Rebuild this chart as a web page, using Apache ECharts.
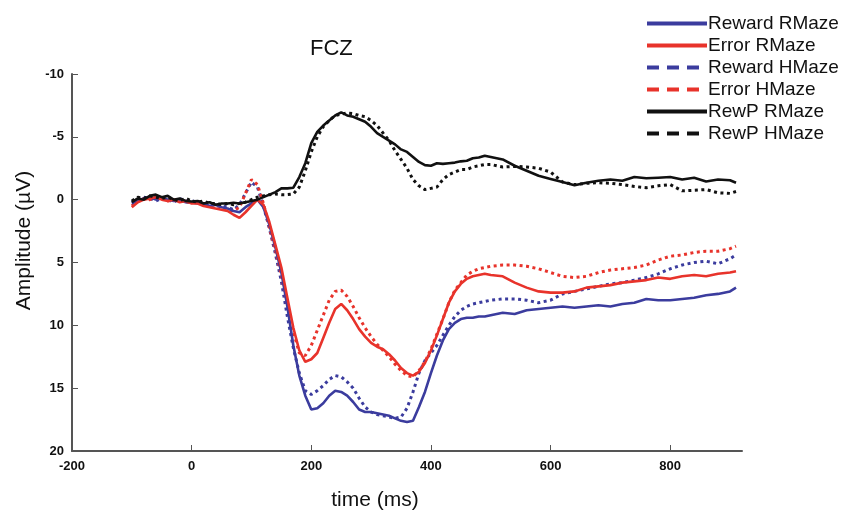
<!DOCTYPE html>
<html>
<head>
<meta charset="utf-8">
<script src="https://cdn.jsdelivr.net/npm/echarts@6/dist/echarts.min.js"></script>
<style>html,body{margin:0;padding:0;background:#fff;}#c{width:859px;height:516px;}</style>
</head>
<body>
<div id="c"></div>
<script>
const times = [-100,-90,-80,-70,-60,-50,-40,-30,-20,-10,0,10,20,30,40,50,60,70,80,90,100,110,120,130,140,150,160,170,180,190,200,210,220,230,240,250,260,270,280,290,300,310,320,330,340,350,360,370,380,390,400,410,420,430,440,450,460,470,480,490,500,520,540,560,580,600,620,640,660,680,700,720,740,760,780,800,820,840,860,880,900,910];

const rewardR = [0.3,0.1,-0.1,-0.2,0.0,-0.2,0.0,0.1,0.0,0.2,0.2,0.3,0.3,0.5,0.4,0.6,0.7,0.9,1.0,0.6,0.3,0.0,0.6,2.0,3.8,5.8,8.5,11.6,14.0,15.6,16.7,16.6,16.2,15.6,15.2,15.3,15.6,16.1,16.7,16.9,16.9,17.0,17.1,17.2,17.4,17.6,17.7,17.6,16.5,15.3,13.8,12.4,11.2,10.3,9.8,9.5,9.4,9.4,9.3,9.3,9.2,9.0,9.1,8.8,8.7,8.6,8.5,8.6,8.5,8.4,8.5,8.3,8.2,7.9,8.0,8.0,7.9,7.8,7.6,7.5,7.3,7.0];
const errorR = [0.6,0.2,0.0,-0.1,-0.2,0.0,0.1,0.0,0.2,0.1,0.3,0.3,0.5,0.6,0.7,0.8,0.9,1.2,1.45,1.0,0.5,0.0,0.4,1.8,3.6,5.4,7.8,10.2,12.0,12.9,12.7,12.2,11.0,9.8,8.7,8.3,8.8,9.5,10.3,10.9,11.4,11.7,11.9,12.3,12.8,13.4,13.8,14.0,13.7,13.0,12.0,10.8,9.5,8.2,7.3,6.7,6.3,6.1,6.0,5.9,6.0,6.1,6.6,7.0,7.3,7.4,7.4,7.3,7.0,6.9,6.8,6.6,6.5,6.4,6.2,6.3,6.1,6.0,6.1,5.9,5.8,5.7];
const rewardH = [0.2,0.0,-0.2,-0.1,0.1,-0.1,0.0,0.2,-0.1,0.1,0.1,0.2,0.4,0.3,0.5,0.5,0.6,0.8,0.4,-0.5,-1.4,-1.0,0.5,2.3,4.3,6.5,9.3,11.8,13.8,15.2,15.5,15.2,14.8,14.3,14.0,14.1,14.5,15.0,15.8,16.5,16.9,17.1,17.2,17.3,17.4,17.3,16.6,15.3,13.8,12.8,12.2,11.6,10.8,10.0,9.3,8.8,8.5,8.3,8.2,8.1,8.0,7.9,7.9,8.0,8.2,8.0,7.5,7.3,7.1,6.9,6.7,6.6,6.4,6.2,5.9,5.5,5.2,5.0,4.9,5.1,4.7,4.4];
const errorH = [0.5,0.1,-0.1,0.0,-0.2,-0.1,0.1,0.0,0.1,0.2,0.2,0.2,0.4,0.5,0.4,0.6,0.8,0.9,0.6,-0.5,-1.6,-1.2,0.3,2.2,4.0,6.0,8.3,10.5,12.2,12.4,11.6,10.4,9.2,8.0,7.3,7.2,7.7,8.5,9.4,10.2,10.9,11.5,12.0,12.5,13.1,13.6,14.0,14.1,13.6,12.9,11.9,10.7,9.5,8.2,7.2,6.6,6.0,5.7,5.5,5.4,5.3,5.2,5.2,5.3,5.5,5.8,6.1,6.2,6.1,5.8,5.6,5.5,5.4,5.2,4.8,4.5,4.4,4.2,4.1,4.1,3.9,3.7];
const rewpR = [0.2,-0.1,0.0,-0.3,-0.4,-0.2,-0.3,0.0,-0.1,0.1,0.15,0.1,0.3,0.2,0.4,0.3,0.3,0.25,0.3,0.2,0.1,0.0,-0.2,-0.4,-0.6,-0.9,-0.9,-0.95,-1.8,-2.9,-4.5,-5.4,-5.9,-6.3,-6.7,-6.95,-6.7,-6.6,-6.4,-6.2,-5.8,-5.3,-5.0,-4.7,-4.4,-4.0,-3.8,-3.4,-3.0,-2.75,-2.7,-2.9,-2.85,-2.9,-2.95,-3.05,-3.1,-3.3,-3.35,-3.5,-3.4,-3.2,-2.7,-2.3,-1.9,-1.65,-1.4,-1.15,-1.35,-1.5,-1.6,-1.5,-1.8,-1.7,-1.75,-1.8,-1.6,-1.75,-1.45,-1.6,-1.55,-1.35];
const rewpH = [0.1,-0.2,-0.1,-0.3,-0.2,-0.1,-0.2,0.0,0.1,-0.1,0.1,0.2,0.1,0.3,0.3,0.4,0.3,0.4,0.3,0.2,0.0,-0.2,-0.3,-0.4,-0.45,-0.4,-0.4,-0.45,-1.0,-2.3,-3.8,-5.0,-5.8,-6.3,-6.7,-6.8,-6.9,-6.85,-6.7,-6.6,-6.3,-5.9,-5.3,-4.7,-3.9,-3.2,-2.5,-1.6,-1.1,-0.8,-0.9,-1.0,-1.6,-2.0,-2.2,-2.4,-2.4,-2.6,-2.7,-2.8,-2.8,-2.6,-2.65,-2.6,-2.5,-2.2,-1.4,-1.2,-1.3,-1.35,-1.3,-1.2,-1.05,-0.95,-1.1,-1.2,-0.7,-0.75,-0.8,-0.55,-0.5,-0.65];

const xTicks = [-200,0,200,400,600,800];
const yTicks = [-10,-5,0,5,10,15,20];
const seriesNames = ['Reward RMaze','Error RMaze','Reward HMaze','Error HMaze','RewP RMaze','RewP HMaze'];

const BLUE = '#3b3c9e', RED = '#e8332b', BLACK = '#111111';
function pairs(vals){ return times.map((t,i)=>[t, vals[i]]); }
function mk(name, vals, color, dotted, z){
  return {
    name, type:'line', data: pairs(vals), showSymbol:false, symbol:'none', z,
    lineStyle:{color, width: dotted ? 3 : 2.6, type: dotted ? [3,3.5] : 'solid'},
    itemStyle:{color}, animation:false
  };
}
const chart = echarts.init(document.getElementById('c'), null, {renderer:'canvas'});
const FONT = 'Liberation Sans, Arial, Helvetica, sans-serif';
const hideSym = {opacity:0, borderWidth:0};
chart.setOption({
  animation:false,
  backgroundColor:'#fff',
  title:{text:'FCZ', left:305, top:33, textStyle:{fontFamily:FONT, fontSize:22, fontWeight:'normal', color:'#111'}},
  legend:{
    orient:'vertical', left:640, top:9, itemWidth:60, itemHeight:14, itemGap:3,
    itemStyle: hideSym,
    textStyle:{fontFamily:FONT, fontSize:19, color:'#111', padding:[0,0,0,-4]},
    data:[
      {name:seriesNames[0], itemStyle:hideSym, lineStyle:{width:4, type:'solid'}},
      {name:seriesNames[1], itemStyle:hideSym, lineStyle:{width:4, type:'solid'}},
      {name:seriesNames[2], itemStyle:hideSym, lineStyle:{width:4, type:[12,8]}},
      {name:seriesNames[3], itemStyle:hideSym, lineStyle:{width:4, type:[12,8]}},
      {name:seriesNames[4], itemStyle:hideSym, lineStyle:{width:4, type:'solid'}},
      {name:seriesNames[5], itemStyle:hideSym, lineStyle:{width:4, type:[12,8]}}
    ]
  },
  grid:{left:72, right:117, top:74, bottom:64, containLabel:false},
  xAxis:{
    type:'value', min:-200, max:920, interval:200,
    name:'time (ms)', nameLocation:'middle', nameGap:39,
    nameTextStyle:{fontFamily:FONT, fontSize:21, color:'#111', padding:[0,64,0,0]},
    axisLine:{show:true, onZero:false, lineStyle:{color:'#555', width:2}},
    axisTick:{show:true, inside:true, length:6, customValues:xTicks, lineStyle:{color:'#555', width:1}},
    axisLabel:{customValues:xTicks, fontFamily:FONT, fontSize:13, fontWeight:'bold', color:'#111', margin:9},
    splitLine:{show:false}
  },
  yAxis:{
    type:'value', min:-10, max:20, interval:5, inverse:true,
    name:'Amplitude (\u00B5V)', nameLocation:'middle', nameGap:30,
    nameTextStyle:{fontFamily:FONT, fontSize:21, color:'#111', padding:[0,0,0,44]},
    axisLine:{show:true, onZero:false, lineStyle:{color:'#555', width:2}},
    axisTick:{show:true, inside:true, length:6, customValues:yTicks, lineStyle:{color:'#555', width:1}},
    axisLabel:{customValues:yTicks, fontFamily:FONT, fontSize:13, fontWeight:'bold', color:'#111', margin:8},
    splitLine:{show:false}
  },
  series:[
    mk(seriesNames[0], rewardR, BLUE, false, 3),
    mk(seriesNames[1], errorR, RED, false, 4),
    mk(seriesNames[2], rewardH, BLUE, true, 2),
    mk(seriesNames[3], errorH, RED, true, 2),
    mk(seriesNames[4], rewpR, BLACK, false, 5),
    mk(seriesNames[5], rewpH, BLACK, true, 4)
  ]
});
</script>
</body>
</html>
